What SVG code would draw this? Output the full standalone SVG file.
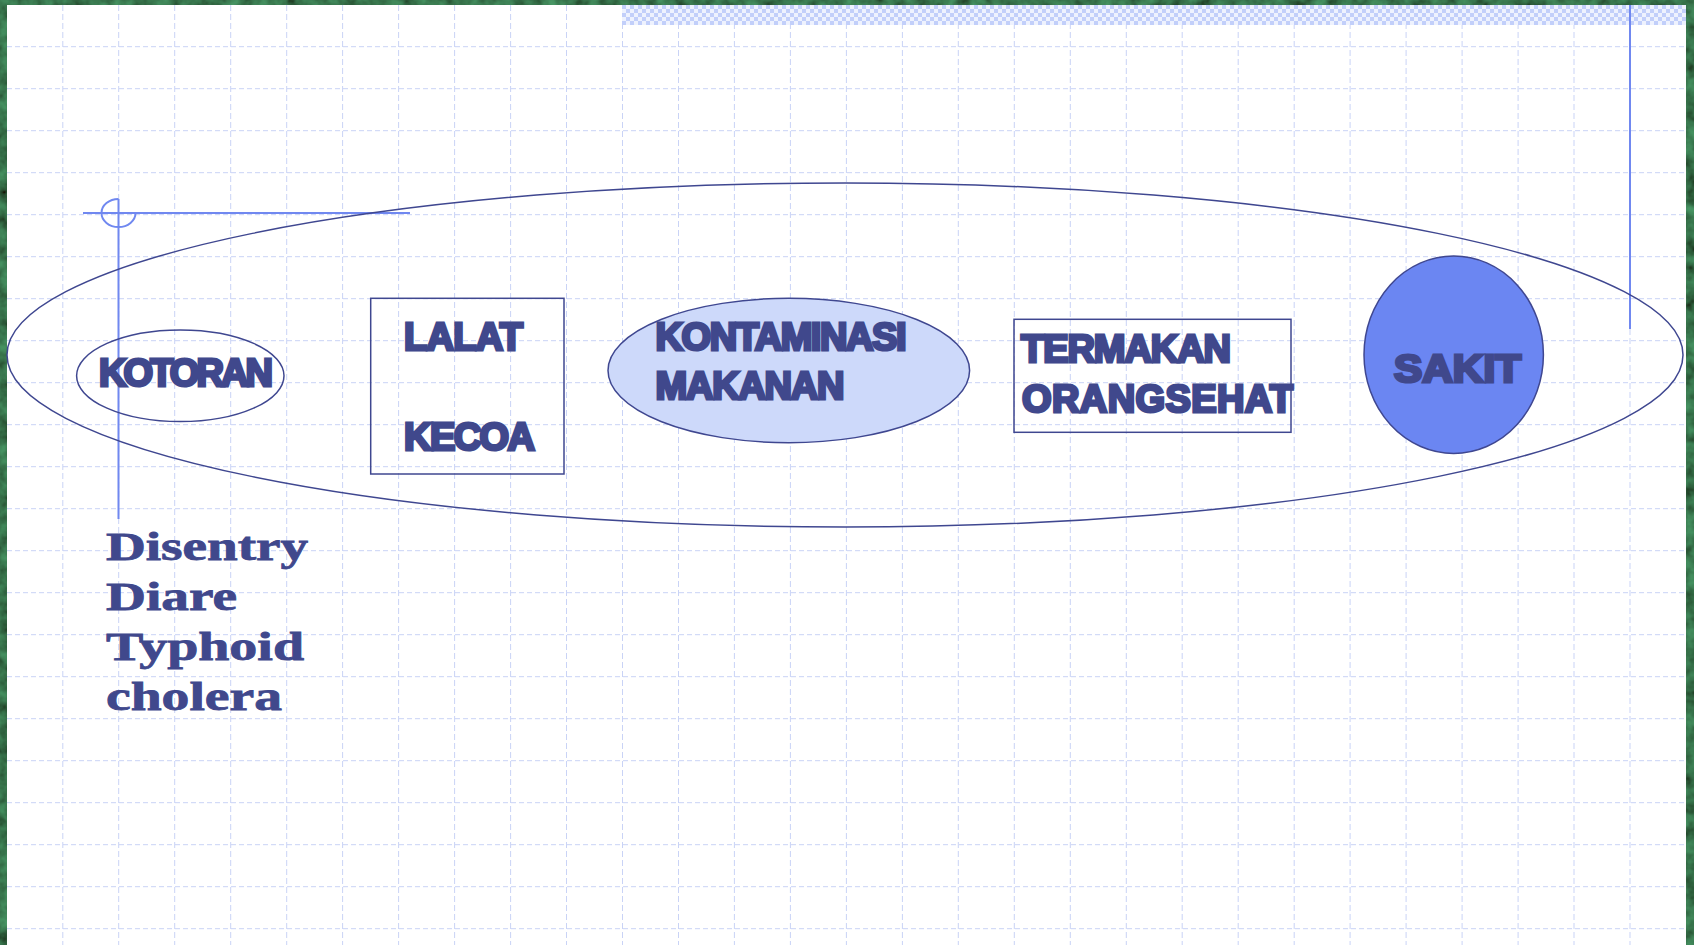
<svg xmlns="http://www.w3.org/2000/svg" width="1694" height="945" viewBox="0 0 1694 945">
  <defs>
    <filter id="tex" x="0" y="0" width="100%" height="100%">
      <feTurbulence type="fractalNoise" baseFrequency="0.07" numOctaves="3" seed="7"/>
      <feColorMatrix type="matrix" values="0.1 0 0 0 0  0.5 0 0 0 -0.04  0.22 0 0 0 -0.02  0 0 0 0 1"/>
    </filter>
    <pattern id="check" x="622" y="5" width="8" height="8" patternUnits="userSpaceOnUse">
      <rect width="8" height="8" fill="#eef2fe"/>
      <rect width="4" height="4" fill="#c2cffa"/>
      <rect x="4" y="4" width="4" height="4" fill="#c2cffa"/>
    </pattern>
    <style>
      .gh { stroke: #c9d3f6; stroke-width: 1; stroke-dasharray: 5 3; fill: none; }
      .gv { stroke: #c9d3f6; stroke-width: 1; stroke-dasharray: 6 3; fill: none; }
      .deco { stroke: #7088f0; stroke-width: 2; fill: none; }
      .shape { stroke: #3f4790; stroke-width: 1.5; }
      .lbl { font-family: "Liberation Sans", Arial, sans-serif; font-weight: bold; fill: #40488c; stroke: #40488c; stroke-width: 3; stroke-linejoin: miter; font-size: 38px; }
      .lst { font-family: "Liberation Serif", "Times New Roman", serif; font-weight: bold; fill: #40488c; stroke: #40488c; stroke-width: 0.8; font-size: 40px; }
    </style>
  </defs>

  <!-- textured green frame -->
  <rect width="1694" height="945" fill="#0e3a1b"/>
  <rect width="1694" height="945" filter="url(#tex)" opacity="0.85"/>
  <!-- paper -->
  <rect x="7" y="5" width="1679" height="940" fill="#ffffff"/>

  <!-- grid -->
  <g id="grid">
    <path class="gh" d="M7 46.7H1686M7 88.7H1686M7 130.7H1686M7 172.7H1686M7 214.7H1686M7 256.7H1686M7 298.7H1686M7 340.7H1686M7 382.7H1686M7 424.7H1686M7 466.7H1686M7 508.7H1686M7 550.7H1686M7 592.7H1686M7 634.7H1686M7 676.7H1686M7 718.7H1686M7 760.7H1686M7 802.7H1686M7 844.7H1686M7 886.7H1686M7 928.7H1686"/>
    <path class="gv" d="M62.8 5V945M118.7 5V945M174.7 5V945M230.7 5V945M286.7 5V945M342.6 5V945M398.6 5V945M454.6 5V945M510.6 5V945M566.5 5V945M622.5 5V945M678.5 5V945M734.4 5V945M790.4 5V945M846.4 5V945M902.4 5V945M958.3 5V945M1014.3 5V945M1070.3 5V945M1126.3 5V945M1182.2 5V945M1238.2 5V945M1294.2 5V945M1350.1 5V945M1406.1 5V945M1462.1 5V945M1518.1 5V945M1574 5V945M1630 5V945"/>
  </g>

  <!-- top checkered band -->
  <rect id="band" x="622" y="5" width="1064" height="20" fill="url(#check)"/>

  <!-- decorative lines -->
  <g id="decor">
    <line class="deco" x1="1630" y1="5" x2="1630" y2="329"/>
    <line class="deco" x1="83" y1="213" x2="410" y2="213"/>
    <line class="deco" x1="118.5" y1="199" x2="118.5" y2="519"/>
    <path class="deco" d="M118.5 199 A17 14 0 1 0 135.5 213"/>
  </g>

  <!-- big enclosing ellipse -->
  <g id="node-outline">
    <ellipse class="shape" cx="845" cy="355" rx="838" ry="172" fill="none"/>
  </g>

  <g id="node-kotoran">
    <ellipse class="shape" cx="180.3" cy="375.8" rx="103.7" ry="45.8" fill="none"/>
    <text class="lbl" x="99" y="386" font-size="39" textLength="174" lengthAdjust="spacing">KOTORAN</text>
  </g>

  <g id="node-lalat-kecoa">
    <rect class="shape" x="370.7" y="298.3" width="193.3" height="175.7" fill="none"/>
    <text class="lbl" x="404" y="350" textLength="119" lengthAdjust="spacing">LALAT</text>
    <text class="lbl" x="404" y="450" textLength="131" lengthAdjust="spacing">KECOA</text>
  </g>

  <g id="node-kontaminasi">
    <ellipse class="shape" cx="788.8" cy="370.5" rx="180.8" ry="72.2" fill="#cdd9fa"/>
    <text class="lbl" x="655.5" y="350" textLength="251" lengthAdjust="spacing">KONTAMINASI</text>
    <text class="lbl" x="655.5" y="399" textLength="189" lengthAdjust="spacing">MAKANAN</text>
  </g>

  <g id="node-termakan">
    <rect class="shape" x="1014" y="319.3" width="277" height="113" fill="none"/>
    <text class="lbl" x="1021" y="362" textLength="210" lengthAdjust="spacing">TERMAKAN</text>
    <text class="lbl" x="1022" y="412" textLength="271" lengthAdjust="spacing">ORANGSEHAT</text>
  </g>

  <g id="node-sakit">
    <ellipse class="shape" cx="1453.7" cy="354.7" rx="89.7" ry="98.7" fill="#6b86f2"/>
    <text class="lbl" x="1394" y="382" font-size="46" stroke-width="3.5" textLength="127" lengthAdjust="spacingAndGlyphs">SAKIT</text>
  </g>

  <g id="node-diseases">
    <text class="lst" x="106" y="560" textLength="202" lengthAdjust="spacingAndGlyphs">Disentry</text>
    <text class="lst" x="106" y="609.5" textLength="131" lengthAdjust="spacingAndGlyphs">Diare</text>
    <text class="lst" x="106" y="659.5" textLength="198" lengthAdjust="spacingAndGlyphs">Typhoid</text>
    <text class="lst" x="106" y="710" textLength="176" lengthAdjust="spacingAndGlyphs">cholera</text>
  </g>

  <g id="connectors"/>
</svg>
